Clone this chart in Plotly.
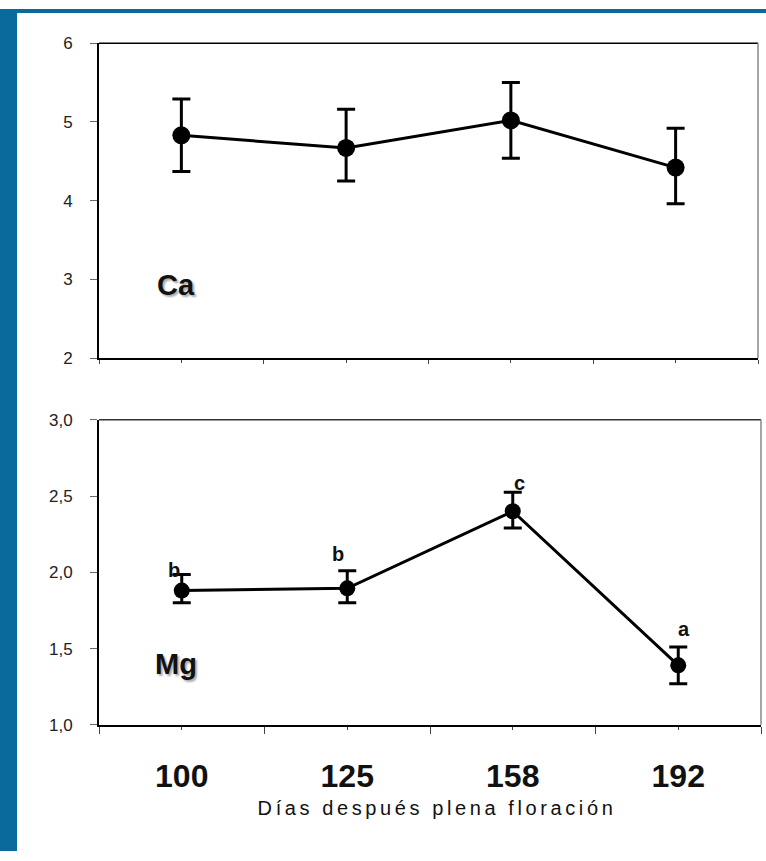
import plotly.graph_objects as go

# ---- data ----
days = ["100", "125", "158", "192"]
ca_mean = [4.83, 4.67, 5.02, 4.42]
ca_upper = [5.29, 5.16, 5.50, 4.92]
ca_lower = [4.37, 4.25, 4.54, 3.96]
mg_mean = [1.88, 1.895, 2.40, 1.39]
mg_upper = [1.985, 2.01, 2.525, 1.51]
mg_lower = [1.80, 1.80, 2.29, 1.27]
mg_letters = ["b", "b", "c", "a"]
x_title = "Días después plena floración"

W, H = 766, 861
FONT = "Arial, Liberation Sans, sans-serif"
BLUE = "#0a6a9c"

xpos = list(range(1, len(days) + 1))
bounds = [i + 0.5 for i in range(0, len(days) + 1)]

fig = go.Figure()

def px_x(p):
    return p / W

def px_y(p):
    return 1 - p / H

top_dom_y = [px_y(357), px_y(35)]
bot_dom_y = [px_y(732), px_y(420)]
top_dom_x = [px_x(99), px_x(758)]
bot_dom_x = [px_x(99), px_x(761)]

def add_series(mean, up, lo, xa, ya, msize):
    fig.add_trace(go.Scatter(
        x=xpos, y=mean, xaxis=xa, yaxis=ya, mode="lines+markers",
        line=dict(color="black", width=3),
        marker=dict(color="black", size=msize),
        error_y=dict(type="data", symmetric=False,
                     array=[u - m for u, m in zip(up, mean)],
                     arrayminus=[m - l for m, l in zip(mean, lo)],
                     color="black", thickness=3, width=9),
        showlegend=False, hoverinfo="skip"))

add_series(ca_mean, ca_upper, ca_lower, "x", "y", 18)
add_series(mg_mean, mg_upper, mg_lower, "x2", "y2", 16)

ytick_font = dict(family=FONT, size=17, color="#222")

fig.update_layout(
    width=W, height=H, margin=dict(l=0, r=0, t=0, b=0),
    paper_bgcolor="white", plot_bgcolor="white",
    separators=",.",
    xaxis=dict(domain=top_dom_x, anchor="y", range=[0.5, 4.5],
               showline=True, linecolor="black", linewidth=2,
               tickvals=xpos, ticktext=["" for _ in days], ticks="outside",
               ticklen=3, tickcolor="#444", tickwidth=1,
               minor=dict(tickvals=bounds, ticks="outside", ticklen=4,
                          tickcolor="#444", tickwidth=1),
               showgrid=False, zeroline=False),
    yaxis=dict(domain=top_dom_y, anchor="x", range=[2, 6], dtick=1,
               showline=True, linecolor="black", linewidth=2,
               ticks="outside", ticklen=7, tickcolor="#666", tickwidth=1,
               tickfont=ytick_font, ticklabelstandoff=14,
               showgrid=False, zeroline=False),
    xaxis2=dict(domain=bot_dom_x, anchor="y2", range=[0.5, 4.5],
                showline=True, linecolor="black", linewidth=2,
                tickvals=xpos, ticktext=days, ticks="outside",
                ticklen=3, tickcolor="#444", tickwidth=1,
                tickfont=dict(family=FONT, size=32, color="#111", weight="bold"),
                ticklabelstandoff=19,
                minor=dict(tickvals=bounds, ticks="outside", ticklen=7,
                           tickcolor="#444", tickwidth=1),
                showgrid=False, zeroline=False),
    yaxis2=dict(domain=bot_dom_y, anchor="x2", range=[1, 3], dtick=0.5,
                tickformat=".1f",
                showline=True, linecolor="black", linewidth=2,
                ticks="outside", ticklen=7, tickcolor="#666", tickwidth=1,
                tickfont=ytick_font, ticklabelstandoff=14,
                showgrid=False, zeroline=False),
)

shapes = [
    # blue frame
    dict(type="rect", xref="paper", yref="paper", x0=0, x1=px_x(17), y0=0, y1=1,
         fillcolor=BLUE, line=dict(width=0), layer="above"),
    dict(type="rect", xref="paper", yref="paper", x0=0, x1=1, y0=px_y(4), y1=1,
         fillcolor=BLUE, line=dict(width=0), layer="above"),
    # top plot frame (top + right)
    dict(type="line", xref="x domain", yref="y domain", x0=0, x1=1, y0=1, y1=1,
         line=dict(color="black", width=1.5)),
    dict(type="line", xref="x domain", yref="y domain", x0=1, x1=1, y0=0, y1=1,
         line=dict(color="#888", width=1.5)),
    # bottom plot frame (top + right)
    dict(type="line", xref="x2 domain", yref="y2 domain", x0=0, x1=1, y0=1, y1=1,
         line=dict(color="#333", width=1.5)),
    dict(type="line", xref="x2 domain", yref="y2 domain", x0=1, x1=1, y0=0, y1=1,
         line=dict(color="#888", width=1.5)),
]
fig.update_layout(shapes=shapes)

annotations = [
    dict(text="Ca", xref="paper", yref="paper", x=px_x(176), y=px_y(282),
         showarrow=False, xanchor="center", yanchor="middle",
         font=dict(family=FONT, size=29, color="#111", weight="bold",
                   shadow="2px 2px 2px #aaa")),
    dict(text="Mg", xref="paper", yref="paper", x=px_x(176), y=px_y(670),
         showarrow=False, xanchor="center", yanchor="middle",
         font=dict(family=FONT, size=29, color="#111", weight="bold",
                   shadow="2px 2px 2px #aaa")),
    dict(text=x_title, xref="paper", yref="paper", x=px_x(437), y=px_y(817),
         showarrow=False, xanchor="center", yanchor="middle",
         font=dict(family=FONT, size=20, color="#111")),
]
shifts = [(-8, 5), (-9, 17), (7, 9), (6, 18)]
for i, (lab, up) in enumerate(zip(mg_letters, mg_upper)):
    dx, dy = shifts[i]
    annotations.append(dict(
        text=lab, x=xpos[i], y=up, xref="x2", yref="y2", showarrow=False,
        xanchor="center", yanchor="middle", xshift=dx, yshift=dy,
        font=dict(family=FONT, size=20, color="#111", weight="bold")))
fig.update_layout(annotations=annotations)

post = """
document.documentElement.style.margin = '0';
document.documentElement.style.overflow = 'hidden';
document.body.style.margin = '0';
document.body.style.padding = '0';
document.body.style.overflow = 'hidden';
var gd = document.getElementById('{plot_id}');
gd.style.position = 'absolute';
gd.style.left = '0px';
gd.style.top = '0px';
gd.querySelectorAll('text').forEach(function(t){
  if (t.textContent.indexOf('D\\u00edas') === 0) { t.style.letterSpacing = '3.6px'; }
});
"""
fig.write_html("out.html", post_script=post, config={"displayModeBar": False})
